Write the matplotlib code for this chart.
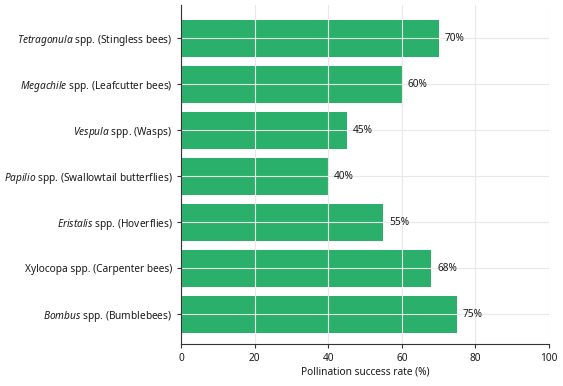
import matplotlib
matplotlib.use("Agg")
import matplotlib.pyplot as plt

genus = ["Tetragonula", "Megachile", "Vespula", "Papilio", "Eristalis", "Xylocopa", "Bombus"]
common = ["Stingless bees", "Leafcutter bees", "Wasps", "Swallowtail butterflies",
          "Hoverflies", "Carpenter bees", "Bumblebees"]
italic = [True, True, True, True, True, False, True]
values = [70, 60, 45, 40, 55, 68, 75]

FONT = "Noto Sans"
plt.rcParams["font.family"] = [FONT, "DejaVu Sans"]
plt.rcParams["mathtext.fontset"] = "custom"
plt.rcParams["mathtext.rm"] = FONT
plt.rcParams["mathtext.it"] = FONT + ":italic"

labels = []
for g, c, it in zip(genus, common, italic):
    if it:
        labels.append(r"$\it{" + g + r"}$ spp. (" + c + ")")
    else:
        labels.append(f"{g} spp. ({c})")

fig = plt.figure(figsize=(5.63, 3.86), dpi=100)
ax = fig.add_axes([181/563, 1-344/386, (549-181)/563, (344-5)/386])

FS = 7.3
ypos = list(range(len(values)))[::-1]
ax.barh(ypos, values, height=0.8, color="#2bb06b", zorder=1)
ax.set_yticks(ypos)
ax.set_yticklabels(labels, fontsize=FS, color="#1a1a1a")
ax.set_xlim(0, 100)
ax.set_ylim(-0.65, 6.72)
ax.set_xticks([0, 20, 40, 60, 80, 100])
ax.tick_params(axis="x", labelsize=FS, length=3, color="#333333", labelcolor="#1a1a1a")
ax.tick_params(axis="y", length=3, color="#333333", pad=3)
ax.set_xlabel("Pollination success rate (%)", fontsize=FS, labelpad=2, color="#1a1a1a")
ax.grid(True, color="#e8e8e8", linewidth=0.8, zorder=2)
ax.set_axisbelow(False)
for s in ["top", "right"]:
    ax.spines[s].set_visible(False)
for s in ["left", "bottom"]:
    ax.spines[s].set_color("#333333")
    ax.spines[s].set_linewidth(0.8)
    ax.spines[s].set_zorder(3)

for y, v in zip(ypos, values):
    ax.text(v + 1.6, y, f"{v}%", va="center", ha="left", fontsize=FS, color="#1a1a1a", zorder=4)

fig.savefig("out.png", dpi=100)
